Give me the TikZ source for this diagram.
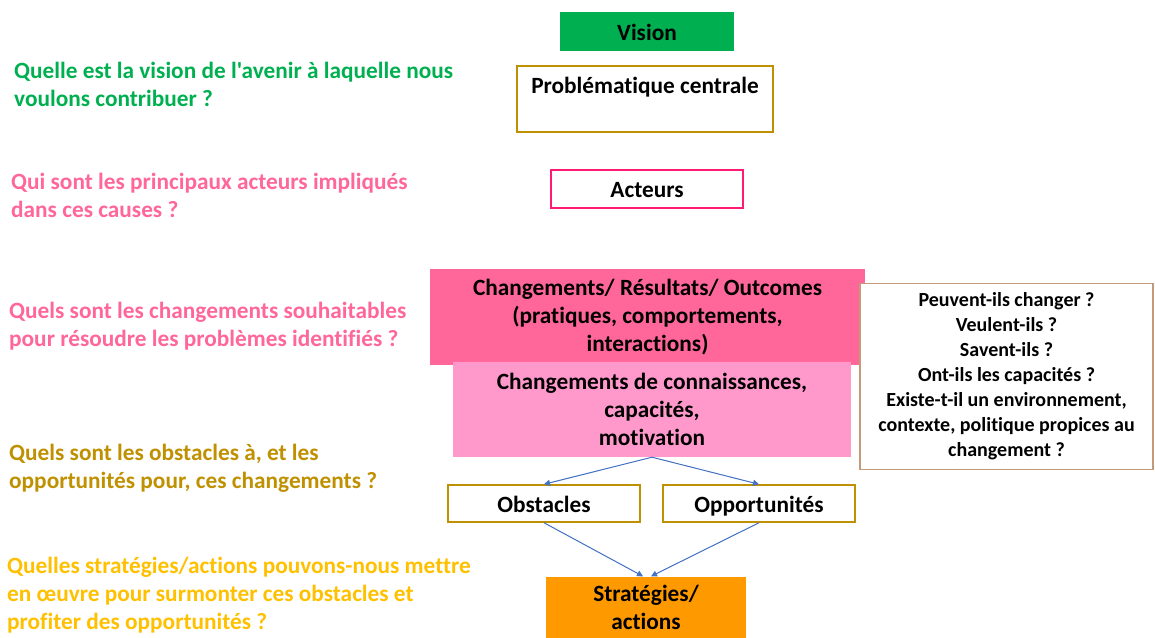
\documentclass[tikz,border=0pt]{standalone}
\usepackage{fontspec}
\setmainfont{Carlito}[Ligatures={TeXOff,CommonOff}]
\usetikzlibrary{arrows.meta,positioning}
\definecolor{visgreen}{HTML}{00B050}
\definecolor{goldline}{HTML}{BF9000}
\definecolor{actpink}{HTML}{FF1A75}
\definecolor{qpink}{HTML}{FF6699}
\definecolor{chgpink}{HTML}{FF6699}
\definecolor{knowpink}{HTML}{FF99CC}
\definecolor{tanline}{HTML}{C39A7A}
\definecolor{qyellow}{HTML}{FFC000}
\definecolor{stratorange}{HTML}{FF9900}
\definecolor{arrowblue}{HTML}{4472C4}
\begin{document}
\begin{tikzpicture}[x=1pt,y=-1pt,
  every node/.style={font=\fontsize{23.3}{28}\selectfont\bfseries,inner sep=0pt,align=center},
  question/.style={anchor=west,align=left},
  goldbox/.style={draw=goldline,line width=1.5pt,fill=white},
  onerow/.style={text height=20pt,text depth=3pt},
  link/.style={-{Triangle[length=6pt,width=6pt]},draw=arrowblue,fill=arrowblue,line width=1pt}]
\useasboundingbox (0,0) rectangle (1155,637);
% questions on the left
\node[question,text=visgreen] (qvision) at (14,84) {Quelle est la vision de l'avenir à laquelle nous\\voulons contribuer ?};
\node[question,text=qpink] (qacteurs) at (11,195) {Qui sont les principaux acteurs impliqués\\dans ces causes ?};
\node[question,text=qpink] (qchg) at (9,326.5) {Quels sont les changements souhaitables\\pour résoudre les problèmes identifiés ?};
\node[question,text=goldline] (qobst) at (9,468.5) {Quels sont les obstacles à, et les\\opportunités pour, ces changements ?};
\node[question,text=qyellow] (qstrat) at (7,595.5) {Quelles stratégies/actions pouvons-nous mettre\\en œuvre pour surmonter ces obstacles et\\profiter des opportunités ?};
% central column
\node[fill=visgreen,minimum width=174,minimum height=39,onerow] (vision) at (647,31.5) {Vision};
\node[goldbox,minimum width=256,minimum height=66] (prob) at (645,99) {Problématique centrale\\~};
\node[draw=actpink,line width=1.5pt,minimum width=192,minimum height=38,onerow] (acteurs) at (647,189) {Acteurs};
\node[fill=chgpink,minimum width=435,minimum height=96] (chg) at (647.5,317) {Changements/ Résultats/ Outcomes\\(pratiques, comportements,\\interactions)};
\node[fill=knowpink,minimum width=398,minimum height=95] (know) at (652,409.5) {Changements de connaissances,\\capacités,\\motivation};
% questions box on the right
\node[draw=tanline,line width=1.5pt,fill=white,minimum width=293,minimum height=186,
  font=\fontsize{20}{25}\selectfont\bfseries] (askbox) at (1006.5,376.5)
  {Peuvent-ils changer ?\\Veulent-ils ?\\Savent-ils ?\\Ont-ils les capacités ?\\Existe-t-il un environnement,\\contexte, politique propices au\\changement ?};
% obstacles / opportunities / strategies
\node[goldbox,minimum width=192,minimum height=37,onerow] (obst) at (544,503.5) {Obstacles};
\node[goldbox,minimum width=192,minimum height=37,onerow] (opp) at (759,503.5) {Opportunités};
\node[fill=stratorange,minimum width=200,minimum height=62] (strat) at (646,607.5) {Stratégies/\\actions};
\draw[link] (know.south) -- (obst.north);
\draw[link] (know.south) -- (opp.north);
\draw[link] (obst.south) -- ([xshift=-3pt]strat.north);
\draw[link] (opp.south) -- ([xshift=5pt]strat.north);
\end{tikzpicture}
\end{document}
